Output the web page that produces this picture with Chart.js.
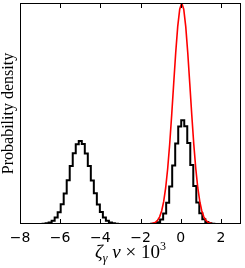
<!DOCTYPE html>
<html><head><meta charset="utf-8">
<script src="https://cdn.jsdelivr.net/npm/chart.js@4"></script>
<style>html,body{margin:0;padding:0;background:#fff}#wrap{width:245px;height:268px;position:relative}</style>
</head><body><div id="wrap"><canvas id="c" width="245" height="268"></canvas></div>
<script>
const xTicks = [-8, -6, -4, -2, 0, 2];
const leftBinX = [-6.95,-6.8,-6.65,-6.5,-6.35,-6.2,-6.05,-5.9,-5.75,-5.6,-5.45,-5.3,-5.15,-5.0,-4.85,-4.7,-4.55,-4.4,-4.25,-4.1,-3.95,-3.8,-3.65,-3.5,-3.35,-3.2,-3.05];
const leftDensity = [0.0004,0.0012,0.0030,0.0069,0.0147,0.029,0.053,0.089,0.138,0.198,0.262,0.320,0.361,0.376,0.362,0.319,0.263,0.197,0.139,0.088,0.054,0.029,0.0150,0.0070,0.0031,0.0012,0.0004];
const rightBinX = [-1.7,-1.55,-1.4,-1.25,-1.1,-0.95,-0.8,-0.65,-0.5,-0.35,-0.2,-0.05,0.1,0.25,0.4,0.55,0.7,0.85,1.0,1.15,1.3,1.45,1.6,1.75,1.9];
const rightDensity = [0.0001,0.0002,0.0008,0.0027,0.0079,0.0207,0.0474,0.0956,0.170,0.265,0.364,0.441,0.470,0.442,0.366,0.267,0.172,0.097,0.049,0.022,0.0085,0.0029,0.0009,0.0002,0.0001];
const redX = [-1.95,-1.85,-1.75,-1.65,-1.55,-1.45,-1.35,-1.25,-1.15,-1.05,-0.95,-0.85,-0.75,-0.65,-0.55,-0.45,-0.35,-0.25,-0.15,-0.05,0.05,0.15,0.25,0.35,0.45,0.55,0.65,0.75,0.85,0.95,1.05,1.15,1.25,1.35,1.45,1.55,1.65,1.75,1.85,1.95,2.05,2.15,2.25,2.35];
const redDensity = [0,0,0.0001,0.0003,0.0007,0.0017,0.0039,0.0083,0.0169,0.0324,0.0589,0.101,0.163,0.250,0.361,0.493,0.636,0.775,0.893,0.972,1.0,0.972,0.893,0.775,0.636,0.493,0.361,0.250,0.163,0.101,0.0589,0.0324,0.0169,0.0083,0.0039,0.0017,0.0007,0.0003,0.0001,0,0,0,0,0];

const toPts = (xs, ys) => xs.map((x, i) => ({x: x, y: ys[i]}));

const frame = {
  id: 'frame',
  afterDraw(chart) {
    const ctx = chart.ctx, a = chart.chartArea, xs = chart.scales.x;
    ctx.save();
    ctx.strokeStyle = '#000'; ctx.lineWidth = 1;
    ctx.strokeRect(a.left + 0.5, a.top + 0.5, a.right - a.left - 1, a.bottom - a.top - 1);
    ctx.beginPath();
    xTicks.forEach(v => {
      if (v === -8) return;
      const px = Math.round(xs.getPixelForValue(v)) + 0.5;
      ctx.moveTo(px, a.bottom); ctx.lineTo(px, a.bottom - 5);
      ctx.moveTo(px, a.top); ctx.lineTo(px, a.top + 5);
    });
    ctx.stroke();
    ctx.fillStyle = '#000';
    ctx.font = '16px "Liberation Serif"';
    ctx.textAlign = 'center'; ctx.textBaseline = 'middle';
    ctx.save();
    ctx.translate(9, (a.top + a.bottom) / 2);
    ctx.rotate(-Math.PI / 2);
    ctx.fillText('Probability density', 0, 0);
    ctx.restore();
    const parts = [
      {t: 'ζ', f: 'italic 19px "Liberation Serif"', dy: 0},
      {t: 'γ', f: 'italic 12px "Liberation Serif"', dy: 4},
      {t: ' v ', f: 'italic 19px "Liberation Serif"', dy: 0},
      {t: '× 10', f: '19px "Liberation Serif"', dy: 0},
      {t: '3', f: '12px "Liberation Serif"', dy: -8}
    ];
    ctx.textAlign = 'left'; ctx.textBaseline = 'alphabetic';
    let w = 0;
    parts.forEach(p => { ctx.font = p.f; p.w = ctx.measureText(p.t).width; w += p.w; });
    let x = (a.left + a.right) / 2 - w / 2, y = 258;
    parts.forEach(p => { ctx.font = p.f; ctx.fillText(p.t, x, y + p.dy); x += p.w; });
    ctx.restore();
  }
};

new Chart(document.getElementById('c'), {
  type: 'line',
  data: {
    datasets: [
      {data: toPts(redX, redDensity), borderColor: '#ff0000', borderWidth: 1.6, pointRadius: 0, tension: 0, fill: false},
      {data: toPts(leftBinX, leftDensity), borderColor: '#000', borderWidth: 2, pointRadius: 0, stepped: 'middle', fill: false},
      {data: toPts(rightBinX, rightDensity), borderColor: '#000', borderWidth: 2, pointRadius: 0, stepped: 'middle', fill: false}
    ]
  },
  options: {
    responsive: false, animation: false, events: [],
    layout: {padding: {top: 3, right: 4, left: 0, bottom: 0}},
    plugins: {legend: {display: false}, tooltip: {enabled: false}},
    scales: {
      x: {
        type: 'linear', min: -8, max: 3,
        afterBuildTicks: s => { s.ticks = xTicks.map(v => ({value: v})); },
        afterFit: s => { s.height = 44; },
        grid: {display: false, drawTicks: false},
        border: {display: false},
        ticks: {color: '#000', padding: 6, maxRotation: 0,
          font: {family: '"DejaVu Sans"', size: 14},
          callback: v => (v < 0 ? '\u2212' + Math.abs(v) : String(v))}
      },
      y: {
        type: 'linear', min: 0, max: 1.0,
        afterFit: s => { s.width = 20; },
        grid: {display: false, drawTicks: false},
        border: {display: false},
        ticks: {display: false}
      }
    }
  },
  plugins: [frame]
});
</script></body></html>
